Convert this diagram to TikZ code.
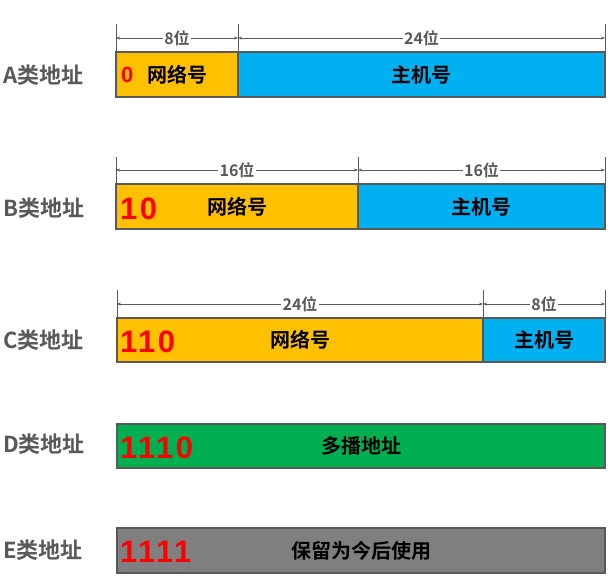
\documentclass[tikz,border=0pt]{standalone}
\usepackage{fontspec}
\setmainfont{Noto Sans CJK SC}[BoldFont={Noto Sans CJK SC Bold}]
\newfontfamily\numfont{Liberation Sans Bold}[LetterSpace=8]
\usetikzlibrary{arrows.meta}
\definecolor{netc}{HTML}{FFC000}
\definecolor{hostc}{HTML}{00B0F0}
\definecolor{multc}{HTML}{00B050}
\definecolor{resc}{HTML}{7F7F7F}
\definecolor{bordc}{HTML}{595959}
\definecolor{labc}{HTML}{595959}
\definecolor{redc}{HTML}{FF0000}
\begin{document}
\begin{tikzpicture}[x=1pt,y=-1pt,
  field/.style={draw=bordc, line width=2.5pt, inner sep=0pt, text=black,
    font=\bfseries\fontsize{20}{20}\selectfont},
  classlab/.style={anchor=west, inner sep=0pt, text=labc,
    font=\bfseries\fontsize{22}{22}\selectfont},
  bits/.style={anchor=west, inner sep=0pt, text=redc,
    font=\numfont\fontsize{31}{31}\selectfont},
  bitsa/.style={bits, font=\numfont\fontsize{22}{22}\selectfont},
  tick/.style={draw=bordc, line width=1pt},
  dim/.style={draw=bordc, line width=0.8pt, {Stealth[length=4pt,width=3pt]}-{Stealth[length=4pt,width=3pt]}},
  dimlab/.style={fill=white, text=labc, inner sep=1.5pt,
    font=\bfseries\fontsize{16}{16}\selectfont}
]
\useasboundingbox (0,0) rectangle (611,582);

% ---------- A ----------
\node[classlab] (la) at (3,75) {A类地址};
\node[field, fill=netc, minimum width=122pt, minimum height=45pt] (anet) at (177,74.5) {网络号};
\node[field, fill=hostc, minimum width=367pt, minimum height=45pt] (ahost) at (421.5,74.5) {主机号};
\node[bitsa] (abits) at (121,74.5) {0};
\coordinate (at1) at (116,24); \coordinate (at2) at (238,24); \coordinate (at3) at (605,24);
\coordinate (ab1) at (116,52); \coordinate (ab2) at (238,52); \coordinate (ab3) at (605,52);
\coordinate (aa1) at (116,38); \coordinate (aa2) at (238,38); \coordinate (aa3) at (605,38);
\draw[tick] (at1) -- (ab1);
\draw[tick] (at2) -- (ab2);
\draw[tick] (at3) -- (ab3);
\draw[dim] (aa1) -- node[dimlab] (ad1) {8位} (aa2);
\draw[dim] (aa2) -- node[dimlab] (ad2) {24位} (aa3);

% ---------- B ----------
\node[classlab] (lb) at (3,208) {B类地址};
\node[field, fill=netc, minimum width=242pt, minimum height=45pt] (bnet) at (237,206.5) {网络号};
\node[field, fill=hostc, minimum width=247pt, minimum height=45pt] (bhost) at (481.5,206.5) {主机号};
\node[bits] (bbits) at (120,209) {10};
\coordinate (bt1) at (116,157); \coordinate (bt2) at (358,157); \coordinate (bt3) at (605,157);
\coordinate (bb1) at (116,184); \coordinate (bb2) at (358,184); \coordinate (bb3) at (605,184);
\coordinate (ba1) at (116,170); \coordinate (ba2) at (358,170); \coordinate (ba3) at (605,170);
\draw[tick] (bt1) -- (bb1);
\draw[tick] (bt2) -- (bb2);
\draw[tick] (bt3) -- (bb3);
\draw[dim] (ba1) -- node[dimlab] (bd1) {16位} (ba2);
\draw[dim] (ba2) -- node[dimlab] (bd2) {16位} (ba3);

% ---------- C ----------
\node[classlab] (lc) at (3,340) {C类地址};
\node[field, fill=netc, minimum width=366pt, minimum height=44pt] (cnet) at (300,340) {网络号};
\node[field, fill=hostc, minimum width=122pt, minimum height=44pt] (chost) at (544,340) {主机号};
\node[bits] (cbits) at (120,342) {110};
\coordinate (ct1) at (117,290); \coordinate (ct2) at (483,290); \coordinate (ct3) at (605,290);
\coordinate (cb1) at (117,318); \coordinate (cb2) at (483,318); \coordinate (cb3) at (605,318);
\coordinate (ca1) at (117,304); \coordinate (ca2) at (483,304); \coordinate (ca3) at (605,304);
\draw[tick] (ct1) -- (cb1);
\draw[tick] (ct2) -- (cb2);
\draw[tick] (ct3) -- (cb3);
\draw[dim] (ca1) -- node[dimlab] (cd1) {24位} (ca2);
\draw[dim] (ca2) -- node[dimlab] (cd2) {8位} (ca3);

% ---------- D ----------
\node[classlab] (ld) at (3,444) {D类地址};
\node[field, fill=multc, minimum width=488pt, minimum height=44pt] (dfield) at (361,446) {多播地址};
\node[bits] (dbits) at (120,448) {1110};

% ---------- E ----------
\node[classlab] (le) at (3,550) {E类地址};
\node[field, fill=resc, minimum width=488pt, minimum height=45pt] (efield) at (361,550.5) {保留为今后使用};
\node[bits] (ebits) at (120,552) {1111};
\end{tikzpicture}
\end{document}
